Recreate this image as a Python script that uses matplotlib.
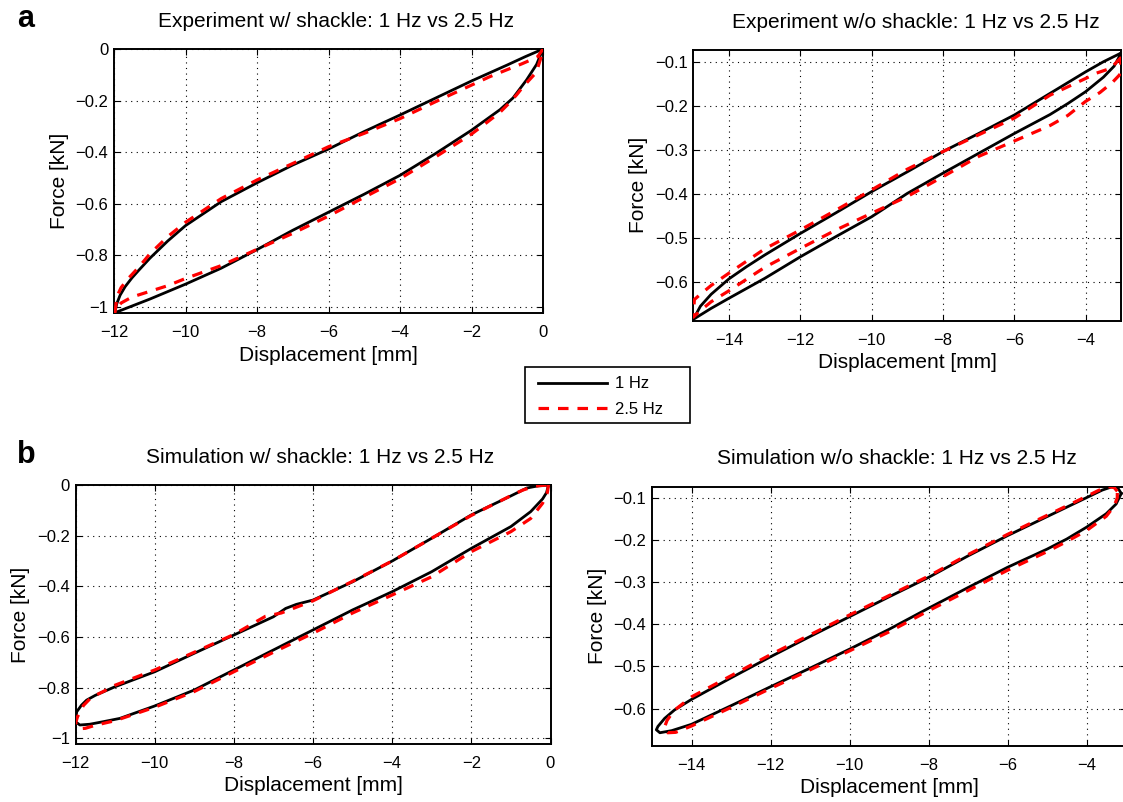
import matplotlib
matplotlib.use("Agg")
import matplotlib.pyplot as plt
from matplotlib.patches import Rectangle

plt.rcParams['font.family'] = ['Liberation Sans', 'DejaVu Sans']

# ---------------- data ----------------
# Panel a, left: Experiment w/ shackle
exp_ws_1hz_x = [0, -0.5, -1, -2, -3, -4, -5, -6, -7, -8, -9, -10, -10.5, -11, -11.32, -11.5, -11.69, -11.83, -11.92, -11.98,
                -11.5, -11, -10, -9, -8, -7, -6, -5, -4, -3, -2, -1.5, -1.2, -0.84, -0.46, -0.18, 0]
exp_ws_1hz_y = [0, -0.03, -0.062, -0.124, -0.19, -0.256, -0.32, -0.388, -0.45, -0.519, -0.592, -0.685, -0.745, -0.812, -0.86, -0.888, -0.922, -0.955, -0.987, -1.023,
                -0.997, -0.97, -0.912, -0.85, -0.778, -0.703, -0.633, -0.563, -0.49, -0.405, -0.315, -0.265, -0.235, -0.19, -0.12, -0.06, 0]
exp_ws_25hz_x = [0, -0.15, -0.3, -0.6, -1, -1.5, -2, -3, -4, -5, -6, -7, -8, -9, -10, -10.5, -11, -11.3, -11.6, -11.8, -11.92, -11.97,
                 -11.9, -11.8, -11.5, -11, -10.5, -10, -9, -8, -7, -6, -5, -4, -3, -2, -1.6, -1.2, -0.97, -0.74, -0.55, -0.25, -0.15, -0.05, 0]
exp_ws_25hz_y = [0, -0.03, -0.04, -0.058, -0.08, -0.108, -0.14, -0.204, -0.27, -0.327, -0.379, -0.444, -0.508, -0.58, -0.672, -0.728, -0.795, -0.845, -0.89, -0.925, -0.96, -1.02,
                 -1.0, -0.985, -0.962, -0.94, -0.918, -0.89, -0.84, -0.777, -0.715, -0.648, -0.575, -0.503, -0.418, -0.33, -0.288, -0.245, -0.213, -0.178, -0.145, -0.1, -0.074, -0.03, 0]

# Panel a, right: Experiment w/o shackle
exp_wo_1hz_x = [-3, -3.5, -4, -5, -6, -7, -8, -9, -10, -11, -12, -13, -13.5, -14, -14.5, -14.8, -15,
                -14.5, -14, -13, -12, -11, -10, -9, -8, -7, -6, -5, -4.5, -4, -3.5, -3.2, -3]
exp_wo_1hz_y = [-0.08, -0.1, -0.123, -0.172, -0.221, -0.263, -0.304, -0.35, -0.395, -0.443, -0.49, -0.539, -0.565, -0.593, -0.628, -0.655, -0.685,
                -0.66, -0.637, -0.592, -0.543, -0.497, -0.452, -0.399, -0.353, -0.308, -0.263, -0.22, -0.195, -0.168, -0.135, -0.11, -0.08]
exp_wo_25hz_x = [-3.0, -3.3, -3.7, -4, -5, -6, -7, -8, -9, -10, -11, -12, -13, -14, -14.5, -14.8, -14.97, -15,
                 -14.8, -14.5, -14, -13, -12, -11, -10, -9, -8, -7, -6, -5, -4.5, -4, -3.6, -3.25, -3.05, -3.0]
exp_wo_25hz_y = [-0.09, -0.115, -0.126, -0.138, -0.176, -0.228, -0.266, -0.304, -0.344, -0.391, -0.437, -0.482, -0.525, -0.58, -0.608, -0.628, -0.64, -0.68,
                 -0.665, -0.645, -0.62, -0.567, -0.524, -0.482, -0.444, -0.406, -0.361, -0.315, -0.28, -0.245, -0.222, -0.19, -0.17, -0.147, -0.13, -0.09]

# Panel b, left: Simulation w/ shackle
sim_ws_1hz_x = [-0.05, -0.3, -0.6, -1, -2, -3, -4, -5, -6, -6.42, -6.69, -7, -8, -9, -10, -11, -11.5, -11.72, -11.85, -11.97, -12,
                -11.89, -11.64, -11.3, -10.88, -10, -9, -8, -7, -6, -5, -4, -3, -2, -1, -0.5, -0.2, -0.1, -0.05]
sim_ws_1hz_y = [0, -0.003, -0.012, -0.043, -0.118, -0.21, -0.3, -0.382, -0.454, -0.471, -0.487, -0.52, -0.592, -0.664, -0.737, -0.796, -0.83, -0.849, -0.869, -0.895, -0.934,
                -0.947, -0.944, -0.934, -0.921, -0.872, -0.809, -0.73, -0.651, -0.572, -0.493, -0.421, -0.342, -0.25, -0.164, -0.105, -0.055, -0.03, 0]
sim_ws_25hz_x = [-0.1, -0.4, -0.7, -1, -2, -3, -4, -5, -6, -6.8, -7.2, -8, -9, -10, -11, -11.3, -11.6, -11.8, -11.95, -12,
                 -11.92, -11.75, -11.5, -11, -10, -9, -8, -7, -6, -5, -4, -3, -2, -1, -0.5, -0.2, -0.08, -0.05, -0.1]
sim_ws_25hz_y = [0, -0.005, -0.02, -0.042, -0.12, -0.21, -0.3, -0.38, -0.457, -0.505, -0.518, -0.59, -0.66, -0.73, -0.79, -0.815, -0.838, -0.87, -0.915, -0.94,
                 -0.962, -0.96, -0.948, -0.93, -0.877, -0.815, -0.737, -0.66, -0.585, -0.505, -0.434, -0.362, -0.263, -0.184, -0.132, -0.072, -0.03, 0, 0]

# Panel b, right: Simulation w/o shackle
sim_wo_1hz_x = [-3.12, -3.2, -3.35, -3.6, -4, -5, -6, -7, -8, -9, -10, -11, -12, -13, -14, -14.43, -14.68, -14.85, -14.89, -14.8,
                -14.5, -14, -13, -12, -11, -10, -9, -8, -7, -6, -5, -4.5, -4, -3.5, -3.25, -3.12]
sim_wo_1hz_y = [-0.09, -0.078, -0.074, -0.082, -0.1, -0.145, -0.19, -0.238, -0.289, -0.335, -0.382, -0.429, -0.477, -0.527, -0.578, -0.603, -0.623, -0.642, -0.65, -0.657,
                -0.652, -0.637, -0.593, -0.548, -0.504, -0.459, -0.412, -0.362, -0.313, -0.265, -0.222, -0.198, -0.17, -0.138, -0.115, -0.09]
sim_wo_25hz_x = [-3.22, -3.3, -3.45, -3.7, -4, -5, -6, -7, -8, -9, -10, -11, -12, -13, -14, -14.45, -14.62, -14.7, -14.6,
                 -14.4, -14, -13, -12, -11, -10, -9, -8, -7, -6, -5, -4.5, -4, -3.5, -3.3, -3.22, -3.22]
sim_wo_25hz_y = [-0.085, -0.076, -0.074, -0.083, -0.097, -0.142, -0.187, -0.235, -0.286, -0.332, -0.378, -0.425, -0.472, -0.522, -0.572, -0.605, -0.628, -0.648, -0.657,
                 -0.656, -0.641, -0.597, -0.552, -0.508, -0.463, -0.418, -0.368, -0.32, -0.272, -0.228, -0.204, -0.178, -0.144, -0.12, -0.1, -0.085]

series_labels = ['1 Hz', '2.5 Hz']
titles = ['Experiment w/ shackle: 1 Hz vs 2.5 Hz', 'Experiment w/o shackle: 1 Hz vs 2.5 Hz',
          'Simulation w/ shackle: 1 Hz vs 2.5 Hz', 'Simulation w/o shackle: 1 Hz vs 2.5 Hz']
xlabel_text = 'Displacement [mm]'
ylabel_text = 'Force [kN]'

xticks_shackle = [-12, -10, -8, -6, -4, -2, 0]
xticklabels_shackle = ['\u221212', '\u221210', '\u22128', '\u22126', '\u22124', '\u22122', '0']
yticks_shackle = [-1, -0.8, -0.6, -0.4, -0.2, 0]
yticklabels_shackle = ['\u22121', '\u22120.8', '\u22120.6', '\u22120.4', '\u22120.2', '0']
xticks_noshackle = [-14, -12, -10, -8, -6, -4]
xticklabels_noshackle = ['\u221214', '\u221212', '\u221210', '\u22128', '\u22126', '\u22124']
yticks_noshackle = [-0.6, -0.5, -0.4, -0.3, -0.2, -0.1]
yticklabels_noshackle = ['\u22120.6', '\u22120.5', '\u22120.4', '\u22120.3', '\u22120.2', '\u22120.1']

# ---------------- figure ----------------
W, H = 1123, 802
fig = plt.figure(figsize=(W / 100, H / 100), dpi=100)


def make_axes(l, r, t, b):
    return fig.add_axes([l / W, 1 - b / H, (r - l) / W, (b - t) / H])


panels = [
    dict(box=(114, 543, 49, 313.3), xlim=(-12, 0), ylim=(-1.025, 0),
         d1=(exp_ws_1hz_x, exp_ws_1hz_y), d2=(exp_ws_25hz_x, exp_ws_25hz_y),
         xt=(xticks_shackle, xticklabels_shackle), yt=(yticks_shackle, yticklabels_shackle),
         title=titles[0], tpos=(336, 26.7)),
    dict(box=(693.3, 1121.3, 50, 320.7), xlim=(-15, -3), ylim=(-0.688, -0.0734),
         d1=(exp_wo_1hz_x, exp_wo_1hz_y), d2=(exp_wo_25hz_x, exp_wo_25hz_y),
         xt=(xticks_noshackle, xticklabels_noshackle), yt=(yticks_noshackle, yticklabels_noshackle),
         title=titles[1], tpos=(916, 28.3)),
    dict(box=(75.5, 550.5, 485, 744), xlim=(-12, 0), ylim=(-1.022, 0),
         d1=(sim_ws_1hz_x, sim_ws_1hz_y), d2=(sim_ws_25hz_x, sim_ws_25hz_y),
         xt=(xticks_shackle, xticklabels_shackle), yt=(yticks_shackle, yticklabels_shackle),
         title=titles[2], tpos=(320, 462.7)),
    dict(box=(652, 1126, 486.7, 745.7), xlim=(-15, -3), ylim=(-0.6877, -0.074),
         d1=(sim_wo_1hz_x, sim_wo_1hz_y), d2=(sim_wo_25hz_x, sim_wo_25hz_y),
         xt=(xticks_noshackle, xticklabels_noshackle), yt=(yticks_noshackle, yticklabels_noshackle),
         title=titles[3], tpos=(897, 464.3)),
]

red_dash = (0, (3.3, 2.8))
handles = None
for p in panels:
    ax = make_axes(*p['box'])
    h1, = ax.plot(*p['d1'], color='black', lw=2.0, solid_joinstyle='round', label=series_labels[0], zorder=3)
    h2, = ax.plot(*p['d2'], color='#ff0000', lw=2.3, linestyle=red_dash, label=series_labels[1], zorder=4)
    if handles is None:
        handles = [h1, h2]
    ax.set_xlim(*p['xlim'])
    ax.set_ylim(*p['ylim'])
    ax.set_xticks(p['xt'][0], p['xt'][1])
    ax.set_yticks(p['yt'][0], p['yt'][1])
    ax.grid(True, color='black', linestyle=(0, (1, 4)), linewidth=0.8)
    ax.set_axisbelow(True)
    ax.tick_params(direction='in', top=True, right=True, length=4, width=0.8,
                   labelsize=12, colors='black')
    ax.tick_params(axis='x', pad=8.5)
    ax.tick_params(axis='y', pad=4)
    for s in ax.spines.values():
        s.set_linewidth(1.4)
    ax.set_xlabel(xlabel_text, fontsize=15, labelpad=4)
    ax.set_ylabel(ylabel_text, fontsize=15, labelpad=5)
    fig.text(p['tpos'][0] / W, 1 - p['tpos'][1] / H, p['title'], fontsize=15,
             ha='center', va='baseline')

fig.text(16.8 / W, 1 - 26.7 / H, 'a', fontsize=22, fontweight='bold', ha='left', va='baseline')
fig.text(16.8 / W, 1 - 462.7 / H, 'b', fontsize=22, fontweight='bold', ha='left', va='baseline')

# legend (frame drawn separately, MATLAB style with extra right margin)
leg = fig.legend(handles, series_labels, loc='upper left',
                 bbox_to_anchor=(538 / W, 1 - 376.5 / H), bbox_transform=fig.transFigure,
                 fontsize=12, frameon=False,
                 handlelength=4.15, handletextpad=0.48, borderaxespad=0, borderpad=0,
                 labelspacing=0.6)
fig.add_artist(Rectangle((524.5 / W, 1 - 423.5 / H), 165.5 / W, 56 / H, transform=fig.transFigure,
                         fill=False, edgecolor='black', linewidth=1.2))

fig.savefig('out.png', dpi=100)
